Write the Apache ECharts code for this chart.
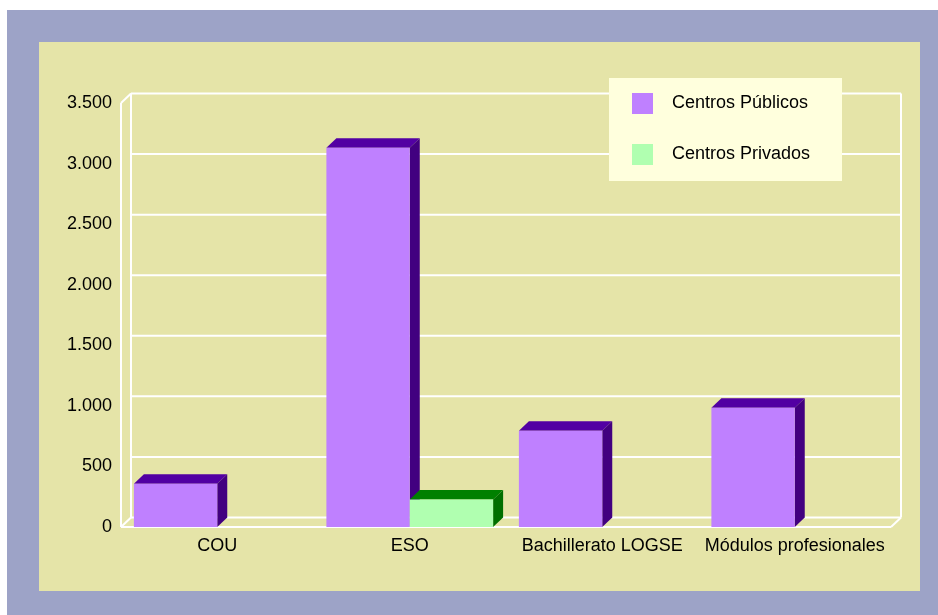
<!DOCTYPE html>
<html>
<head>
<meta charset="utf-8">
<script src="https://cdn.jsdelivr.net/npm/echarts@6/dist/echarts.min.js"></script>
<style>
  html, body { margin: 0; padding: 0; background: #fff; }
  #chart { width: 938px; height: 615px; }
</style>
</head>
<body>
<div id="chart"></div>
<script>
const categories = ['COU', 'ESO', 'Bachillerato LOGSE', 'Módulos profesionales']
const publicos = [358, 3130, 795, 985]
const privados = [null, 228, null, null]
const seriesNames = ['Centros Públicos', 'Centros Privados']
const yTicks = [0, 500, 1000, 1500, 2000, 2500, 3000, 3500]

// profundidad del efecto 3D
const DX = 10
const DY = -9.5
const FONT = 'Arial, "Liberation Sans", sans-serif'

let fmt = v => String(v).replace(/\B(?=(\d{3})+(?!\d))/g, '.')

let barItem = (side, colors) => (params, api) => {
    let idx = api.value(0)
    let val = api.value(1)
    let c = api.coord([idx, 0])
    let band = api.size([1, 0])[0]
    let w = band * 0.433
    let xl = side === 0 ? c[0] - w : c[0]
    let xr = xl + w
    let yb = c[1]
    let yt = api.coord([idx, val])[1]
    return {
        type: 'group',
        children: [
            { type: 'polygon', shape: { points: [[xl, yt], [xl + DX, yt + DY], [xr + DX, yt + DY], [xr, yt]] }, style: { fill: colors[1] } },
            { type: 'polygon', shape: { points: [[xr, yt], [xr + DX, yt + DY], [xr + DX, yb + DY], [xr, yb]] }, style: { fill: colors[2] } },
            { type: 'rect', shape: { x: xl, y: yt, width: w, height: yb - yt }, style: { fill: colors[0] } }
        ]
    }
}

let frameItem = (params, api) => {
    let cs = params.coordSys
    let x0 = cs.x, x1 = cs.x + cs.width
    let line = (a, b) => ({
        type: 'line', shape: { x1: a[0], y1: a[1], x2: b[0], y2: b[1] },
        style: { stroke: '#ffffff', lineWidth: 2 }
    })
    let children = yTicks.map(v => {
        let y = api.coord([0, v])[1] + DY
        return line([x0 + DX, y], [x1 + DX, y])
    })
    let yTop = api.coord([0, yTicks[yTicks.length - 1]])[1]
    let yBot = api.coord([0, 0])[1]
    children.push(line([x0 + DX, yTop + DY], [x0 + DX, yBot + DY]))
    children.push(line([x1 + DX, yTop + DY], [x1 + DX, yBot + DY]))
    children.push(line([x0, yTop], [x0, yBot]))
    children.push(line([x0, yTop], [x0 + DX, yTop + DY]))
    children.push(line([x0, yBot], [x0 + DX, yBot + DY]))
    children.push(line([x0, yBot], [x1, yBot]))
    children.push(line([x1, yBot], [x1 + DX, yBot + DY]))
    return { type: 'group', children: children }
}

let chart = echarts.init(document.getElementById('chart'))
chart.setOption({
    backgroundColor: '#ffffff',
    animation: false,
    graphic: [
        { type: 'rect', z: -10, shape: { x: 7, y: 10, width: 931, height: 605 }, style: { fill: '#9DA3C7' } },
        { type: 'rect', z: -9, shape: { x: 39, y: 42, width: 881, height: 549 }, style: { fill: '#E5E4A8' } },
        { type: 'rect', z: 50, shape: { x: 609, y: 78, width: 233, height: 103 }, style: { fill: '#FFFFDD' } }
    ],
    legend: {
        z: 60,
        orient: 'vertical',
        left: 627,
        top: 88,
        padding: 5,
        itemWidth: 21,
        itemHeight: 21,
        itemGap: 30,
        icon: 'rect',
        selectedMode: false,
        data: seriesNames,
        textStyle: { fontFamily: FONT, fontSize: 18, color: '#000', padding: [2, 0, 0, 14] }
    },
    grid: { left: 121, right: 47, top: 103, bottom: 88 },
    xAxis: {
        type: 'category',
        data: categories,
        axisLine: { show: false },
        axisTick: { show: false },
        axisLabel: { fontFamily: FONT, fontSize: 18, color: '#000', margin: 10, interval: 0 }
    },
    yAxis: {
        type: 'value',
        min: 0,
        max: 3500,
        interval: 500,
        axisLine: { show: false },
        axisTick: { show: false },
        splitLine: { show: false },
        axisLabel: { fontFamily: FONT, fontSize: 18, color: '#000', margin: 9, formatter: fmt }
    },
    series: [
        {
            type: 'custom', name: 'frame', silent: true, z: 1,
            renderItem: frameItem,
            data: [[0, 0]]
        },
        {
            type: 'custom', name: seriesNames[0], z: 2,
            itemStyle: { color: '#BF80FF' },
            renderItem: barItem(0, ['#BF80FF', '#5200A3', '#420080']),
            data: publicos.map((v, i) => [i, v]).filter(d => d[1] != null)
        },
        {
            type: 'custom', name: seriesNames[1], z: 3,
            itemStyle: { color: '#B0FFB0' },
            renderItem: barItem(1, ['#B0FFB0', '#008000', '#007000']),
            data: privados.map((v, i) => [i, v]).filter(d => d[1] != null)
        }
    ]
})
</script>
</body>
</html>
